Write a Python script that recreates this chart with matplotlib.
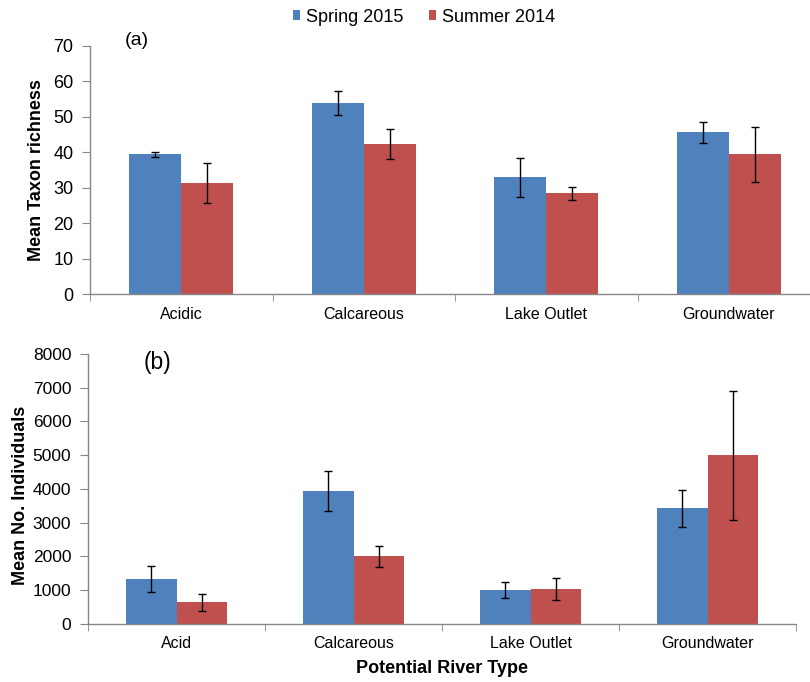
import matplotlib.pyplot as plt
import numpy as np

plt.rcParams['font.family'] = ['Liberation Sans', 'DejaVu Sans']

SPRING_COLOR = "#4F81BD"
SUMMER_COLOR = "#C0504D"
AXIS_GRAY = "#868686"

# panel (a)
types_a = ["Acidic", "Calcareous", "Lake Outlet", "Groundwater"]
richness_spring = [39.4, 53.8, 32.9, 45.6]
richness_spring_err = [0.7, 3.4, 5.6, 2.9]
richness_summer = [31.3, 42.4, 28.4, 39.4]
richness_summer_err = [5.6, 4.3, 1.8, 7.7]

# panel (b)
types_b = ["Acid", "Calcareous", "Lake Outlet", "Groundwater"]
indiv_spring = [1320, 3930, 1000, 3420]
indiv_spring_err = [390, 585, 250, 555]
indiv_summer = [635, 2000, 1030, 4990]
indiv_summer_err = [260, 310, 340, 1900]

BAR_W = 0.286


def style_axes(ax, labels, ysize):
    for side in ["top", "right"]:
        ax.spines[side].set_visible(False)
    for side in ["left", "bottom"]:
        ax.spines[side].set_color(AXIS_GRAY)
        ax.spines[side].set_linewidth(1.0)
    ax.set_xlim(-0.5, 3.5)
    x = np.arange(len(labels))
    ax.set_xticks(x)
    ax.set_xticklabels(labels, fontsize=11.5)
    ax.tick_params(axis="x", which="major", length=0, pad=9)
    ax.set_xticks(np.arange(-0.5, len(labels)), minor=True)
    ax.tick_params(axis="x", which="minor", length=5, color=AXIS_GRAY, direction="out")
    ax.tick_params(axis="y", length=6, color=AXIS_GRAY, direction="out", labelsize=ysize, pad=6)


def draw_bars(ax, spring, spring_err, summer, summer_err):
    x = np.arange(len(spring))
    err_kw = dict(ecolor="black", elinewidth=1.0, capsize=3, capthick=1.0)
    ax.bar(x - BAR_W / 2, spring, BAR_W, yerr=spring_err, color=SPRING_COLOR,
           error_kw=err_kw, label="Spring 2015")
    ax.bar(x + BAR_W / 2, summer, BAR_W, yerr=summer_err, color=SUMMER_COLOR,
           error_kw=err_kw, label="Summer 2014")


fig = plt.figure(figsize=(8.1, 6.82), dpi=100)

# top axes runs past the right edge like in the original figure
ax1 = fig.add_axes([90 / 810, 1 - 294 / 682, 730 / 810, 248 / 682])
draw_bars(ax1, richness_spring, richness_spring_err, richness_summer, richness_summer_err)
style_axes(ax1, types_a, 13)
ax1.set_ylim(0, 70)
ax1.set_yticks(range(0, 71, 10))
ax1.set_ylabel("Mean Taxon richness", fontsize=13, fontweight="bold")
ax1.yaxis.set_label_coords(-0.061, 0.5)
ax1.text(0.064, 1.024, "(a)", transform=ax1.transAxes, fontsize=14, va="center", ha="center")

ax2 = fig.add_axes([88 / 810, 1 - 623.7 / 682, 708 / 810, 269.7 / 682])
draw_bars(ax2, indiv_spring, indiv_spring_err, indiv_summer, indiv_summer_err)
style_axes(ax2, types_b, 12.5)
ax2.set_ylim(0, 8000)
ax2.set_yticks(range(0, 8001, 1000))
ax2.set_ylabel("Mean No. Individuals", fontsize=13, fontweight="bold")
ax2.yaxis.set_label_coords(-0.084, 0.477)
ax2.set_xlabel("Potential River Type", fontsize=13, fontweight="bold")
ax2.xaxis.set_label_coords(0.5, -0.136)
ax2.text(0.0975, 0.97, "(b)", transform=ax2.transAxes, fontsize=16.5, va="center", ha="center")

handles, labels = ax1.get_legend_handles_labels()
fig.legend(handles, labels, loc="center", bbox_to_anchor=(424 / 810, 1 - 17 / 682),
           ncol=2, frameon=False, fontsize=13, handlelength=0.4, handleheight=0.4,
           handletextpad=0.35, columnspacing=1.4)

fig.savefig("out.png", dpi=100)
